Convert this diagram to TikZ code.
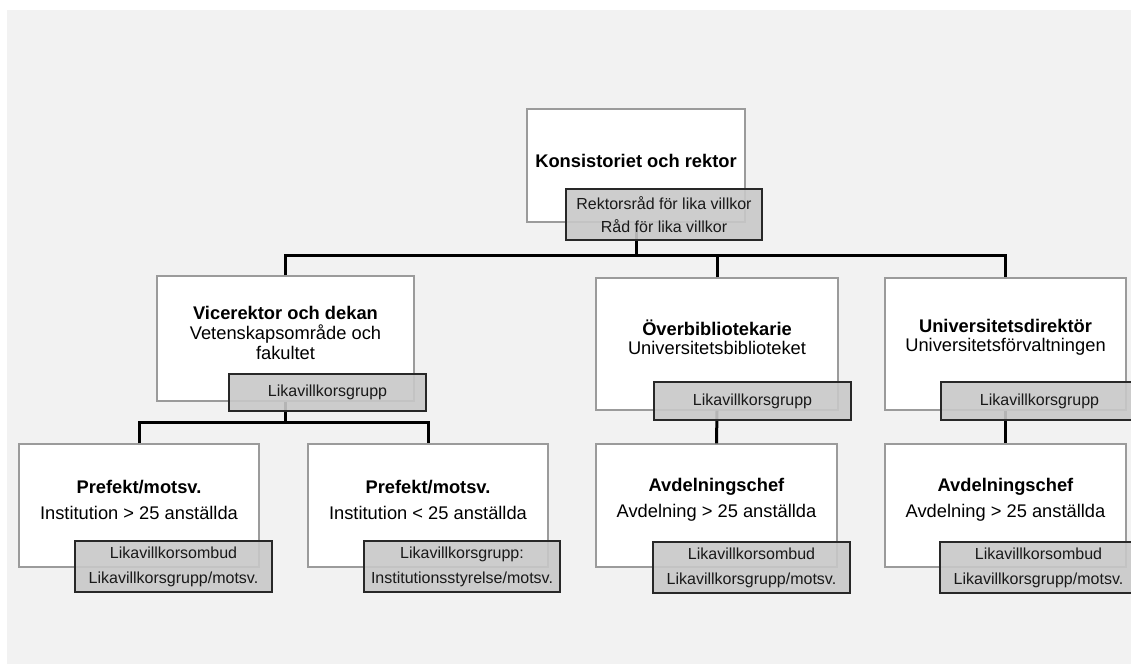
\documentclass[tikz,border=0pt]{standalone}
\usepackage{fontspec}
\setmainfont{Liberation Sans}
\definecolor{pagebg}{RGB}{242, 242, 242}
\definecolor{boxline}{RGB}{155, 155, 155}
\definecolor{tagfill}{RGB}{200, 200, 200}
\definecolor{tagline}{RGB}{40, 40, 40}
\usepackage{tikz}

\begin{document}
\begin{tikzpicture}[x=1pt, y=-1pt,
    wbox/.style={draw=boxline, line width=1.3pt, fill=white, inner sep=0pt},
    gbox/.style={draw=tagline, line width=1.3pt, fill=tagfill, fill opacity=0.9,
                 text opacity=1, inner sep=0pt, align=center, text=black!90,
                 font=\fontsize{16}{25}\selectfont},
    txt/.style={align=center, text=black, font=\fontsize{18.3}{20}\selectfont},
    conn/.style={line width=3pt, black}
  ]
  \fill[pagebg] (7,10) rectangle (1131,664);
  \useasboundingbox (0,0) rectangle (1131,664);

  % white boxes
  \node[wbox, minimum width=218pt, minimum height=113pt] (kons) at (636,165.5) {};
  \node[wbox, minimum width=257pt, minimum height=125pt] (vice) at (285.5,338.5) {};
  \node[wbox, minimum width=242pt, minimum height=132pt] (bib) at (717,344) {};
  \node[wbox, minimum width=241pt, minimum height=132pt] (dir) at (1005.5,344) {};
  \node[wbox, minimum width=240pt, minimum height=123pt] (pa) at (139,505.5) {};
  \node[wbox, minimum width=240pt, minimum height=123pt] (pb) at (428,505.5) {};
  \node[wbox, minimum width=241pt, minimum height=123pt] (avda) at (716.5,505.5) {};
  \node[wbox, minimum width=241pt, minimum height=123pt] (avdb) at (1005.5,505.5) {};

  \node[txt, font=\bfseries\fontsize{18.3}{20}\selectfont] (kons-t) at (636,161) {Konsistoriet och rektor};
  \node[txt] (vice-t) at (285.5,332.5) {\textbf{Vicerektor och dekan}\\Vetenskapsområde och\\fakultet};
  \node[txt, font=\fontsize{18.3}{19.5}\selectfont] (bib-t) at (717,337.5) {\textbf{Överbibliotekarie}\\Universitetsbiblioteket};
  \node[txt, font=\fontsize{18.3}{19.5}\selectfont] (dir-t) at (1005.5,337.5) {\textbf{Universitetsdirektör}\\Universitetsförvaltningen};
  \node[txt, font=\fontsize{18.3}{26}\selectfont] (pa-t) at (139,500) {\textbf{Prefekt/motsv.}\\Institution > 25 anställda};
  \node[txt, font=\fontsize{18.3}{26}\selectfont] (pb-t) at (428,500) {\textbf{Prefekt/motsv.}\\Institution < 25 anställda};
  \node[txt, font=\fontsize{18.3}{26}\selectfont] (avda-t) at (716.5,500) {\textbf{Avdelningschef}\\Avdelning > 25 anställda};
  \node[txt, font=\fontsize{18.3}{26}\selectfont] (avdb-t) at (1005.5,500) {\textbf{Avdelningschef}\\Avdelning > 25 anställda};

  % connectors
  \coordinate (busa) at (636,255);
  \coordinate (busb) at (286,422);
  \draw[conn] (kons.south) -- (kons.south |- busa);
  \draw[conn] (vice.north) |- (dir.north |- busa) -- (dir.north);
  \draw[conn] (bib.north) -- (bib.north |- busa);
  \draw[conn] (vice.south) -- (vice.south |- busb);
  \draw[conn] (pa.north) |- (pb.north |- busb) -- (pb.north);
  \draw[conn] (bib.south) -- (avda.north);
  \draw[conn] (dir.south) -- (avdb.north);

  % grey tags on top
  \node[gbox, minimum width=196pt, minimum height=51pt, font=\fontsize{16}{23}\selectfont] (kons-g) at (664,214.5) {Rektorsråd för lika villkor\\Råd för lika villkor};
  \node[gbox, minimum width=197pt, minimum height=37pt] (vice-g) at (327.5,392.5) {Likavillkorsgrupp};
  \node[gbox, minimum width=197pt, minimum height=38pt] (bib-g) at (752.5,401) {Likavillkorsgrupp};
  \node[gbox, minimum width=197pt, minimum height=38pt] (dir-g) at (1039.5,401) {Likavillkorsgrupp};
  \node[gbox, minimum width=197pt, minimum height=51pt] (pa-g) at (173.5,566.5) {Likavillkorsombud\\Likavillkorsgrupp/motsv.};
  \node[gbox, minimum width=196pt, minimum height=51pt] (pb-g) at (462,566.5) {Likavillkorsgrupp:\\Institutionsstyrelse/motsv.};
  \node[gbox, minimum width=197pt, minimum height=51pt] (avda-g) at (751.5,567.5) {Likavillkorsombud\\Likavillkorsgrupp/motsv.};
  \node[gbox, minimum width=197pt, minimum height=51pt] (avdb-g) at (1038.5,567.5) {Likavillkorsombud\\Likavillkorsgrupp/motsv.};
\end{tikzpicture}
\end{document}
